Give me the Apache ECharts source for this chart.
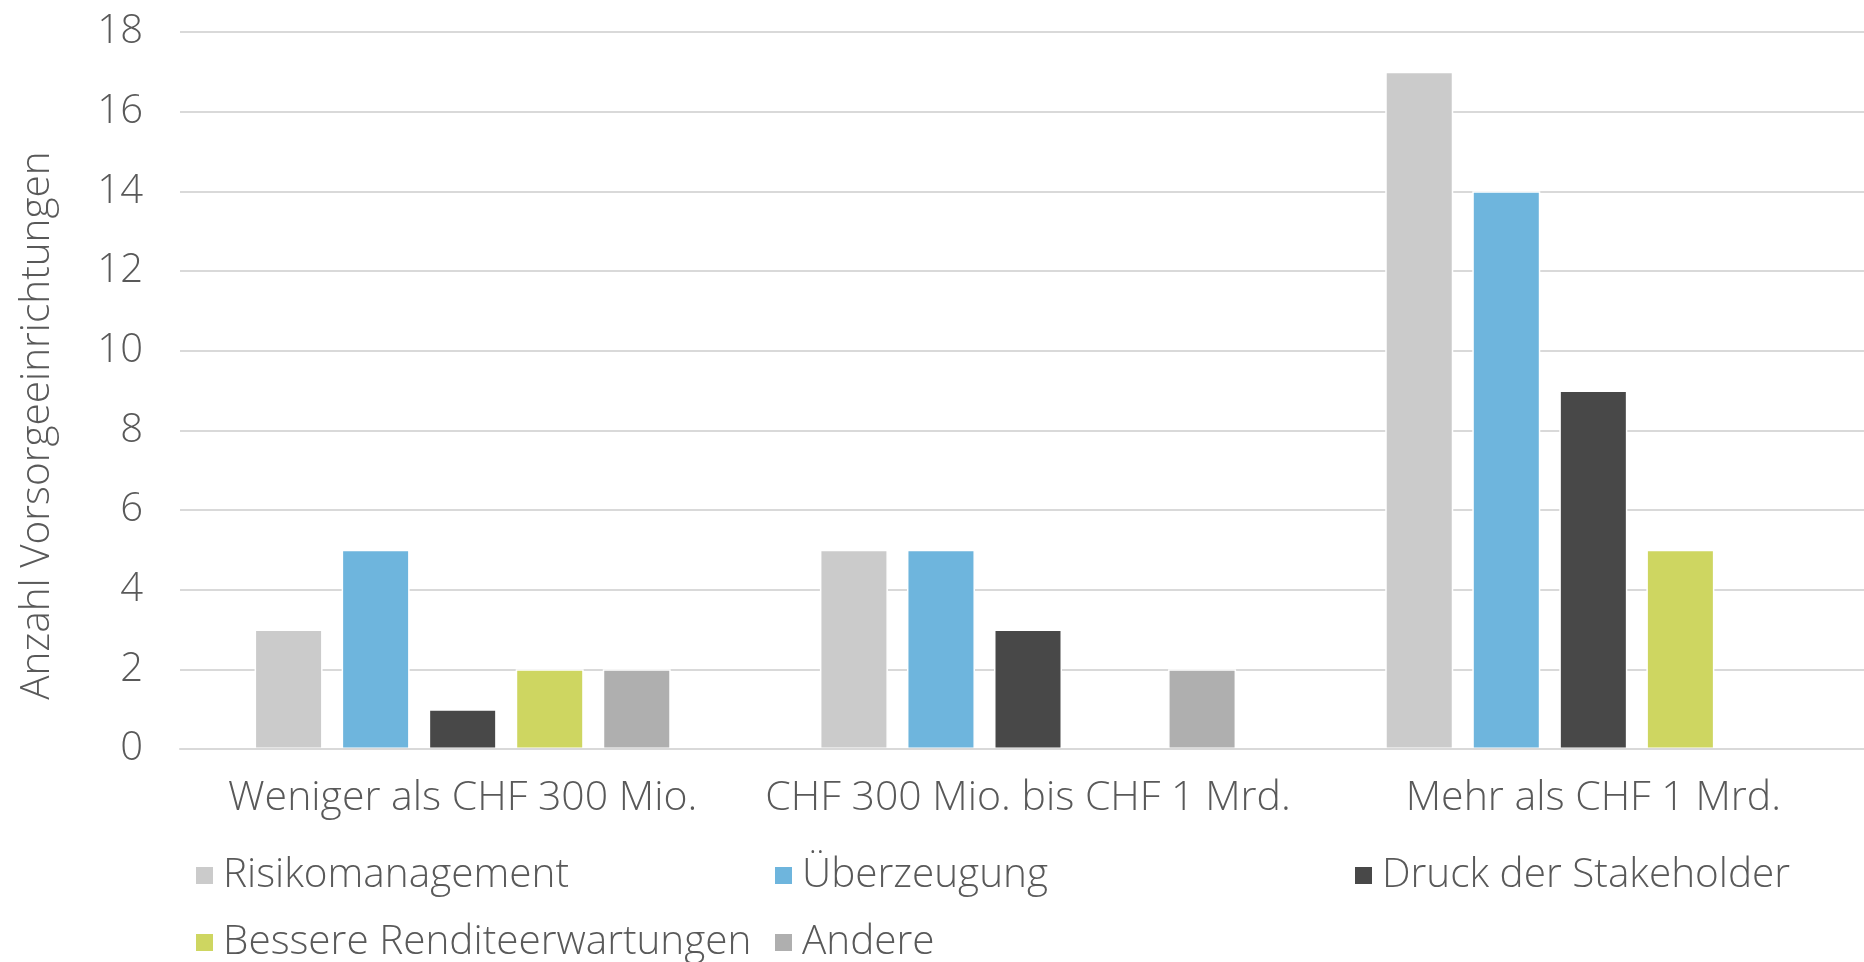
<!DOCTYPE html>
<html>
<head>
<meta charset="utf-8">
<script src="https://cdn.jsdelivr.net/npm/echarts@6/dist/echarts.min.js"></script>
<style>
  html, body { margin: 0; padding: 0; background: #fff; }
  #main { width: 1864px; height: 962px; }
</style>
</head>
<body>
<div id="main"></div>
<script>
// Kategorien (Vermögen der Vorsorgeeinrichtung)
const categories = ["Weniger als CHF 300 Mio.", "CHF 300 Mio. bis CHF 1 Mrd.", "Mehr als CHF 1 Mrd."];

// Werte je Motiv
const risikomanagement = [3, 5, 17];
const ueberzeugung = [5, 5, 14];
const druckStakeholder = [1, 3, 9];
const bessereRendite = [2, 0, 5];
const andere = [2, 2, 0];

const seriesNames = ["Risikomanagement", "Überzeugung", "Druck der Stakeholder", "Bessere Renditeerwartungen", "Andere"];
const seriesValues = [risikomanagement, ueberzeugung, druckStakeholder, bessereRendite, andere];
const colors = ["#cbcbcb", "#6eb5dd", "#484848", "#ced661", "#afafaf"];

const yTicks = { min: 0, max: 18, interval: 2 };

const font = "'Open Sans', 'Noto Sans', sans-serif";
const textColor = "#595959";

// Legende wie in Excel: Spalten-Raster
const legendPos = [
  { left: 194, top: 855 },
  { left: 773, top: 855 },
  { left: 1353, top: 855 },
  { left: 194, top: 922 },
  { left: 773, top: 922 },
];

const option = {
  animation: false,
  grid: {
    // Diagramm ist rechts etwas abgeschnitten
    left: 180,
    right: -12,
    top: 32,
    bottom: 213,
    outerBoundsMode: "none",
  },
  legend: seriesNames.map((name, i) => ({
    data: [name],
    left: legendPos[i].left,
    top: legendPos[i].top,
    padding: 0,
    icon: "rect",
    itemWidth: 19,
    itemHeight: 19,
    itemGap: 0,
    selectedMode: false,
    textStyle: {
      fontFamily: font,
      fontWeight: 300,
      fontSize: 40.5,
      color: textColor,
      padding: [0, 0, 0, 4],
    },
  })),
  xAxis: {
    type: "category",
    data: categories,
    z: 5,
    axisLine: {
      lineStyle: { color: "#d9d9d9", width: 2 },
    },
    axisTick: { show: false },
    axisLabel: {
      interval: 0,
      margin: 29,
      fontFamily: font,
      fontWeight: 300,
      fontSize: 41,
      color: textColor,
    },
  },
  yAxis: {
    type: "value",
    min: yTicks.min,
    max: yTicks.max,
    interval: yTicks.interval,
    name: "Anzahl Vorsorgeeinrichtungen",
    nameLocation: "middle",
    nameGap: 122,
    nameRotate: 90,
    nameTextStyle: {
      fontFamily: font,
      fontWeight: 300,
      fontSize: 40.5,
      color: textColor,
      padding: [0, 70, 0, 0],
    },
    axisLine: { show: false },
    axisTick: { show: false },
    axisLabel: {
      margin: 37,
      fontFamily: font,
      fontWeight: 300,
      fontSize: 40,
      color: textColor,
    },
    splitLine: {
      lineStyle: { color: "#d9d9d9", width: 2 },
    },
  },
  series: seriesNames.map((name, i) => ({
    name: name,
    type: "bar",
    data: seriesValues[i],
    barWidth: 68,
    barGap: "28%",
    itemStyle: {
      color: colors[i],
      borderColor: "#ffffff",
      borderWidth: 1.5,
    },
  })),
};

var chartDom = document.getElementById("main");
var myChart = echarts.init(chartDom);
option && myChart.setOption(option);
</script>
</body>
</html>
